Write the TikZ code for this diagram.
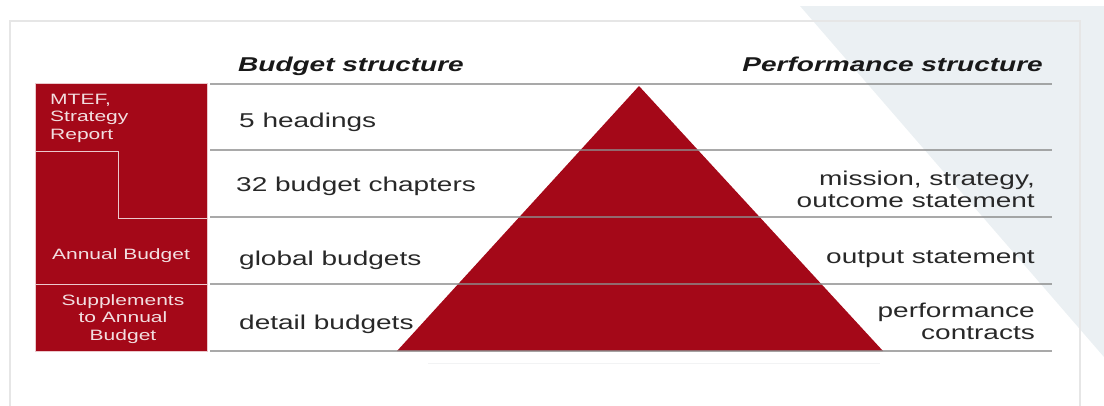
\documentclass[tikz,border=0pt]{standalone}
\usepackage{tikz}
\usepackage{fontspec}
\setmainfont{Liberation Sans}[FakeStretch=1.4]
\definecolor{budgetred}{RGB}{164,8,24}
\definecolor{boxline}{RGB}{235,200,204}
\definecolor{boxtext}{RGB}{242,222,224}
\definecolor{bgblue}{RGB}{235,240,243}
\definecolor{framegray}{RGB}{230,230,230}
\definecolor{rulegray}{RGB}{140,140,140}
\definecolor{textgray}{RGB}{40,40,40}
\tikzstyle{redbox} = [fill=budgetred,draw=boxline,line width=0.8pt]
\tikzstyle{rule} = [draw=rulegray,line width=1.2pt,opacity=0.75]
\tikzstyle{head} = [inner sep=0pt,font=\fontsize{20}{22}\selectfont\bfseries\itshape,text=black!90]
\tikzstyle{level} = [inner sep=0pt,font=\fontsize{20}{22}\selectfont,text=textgray]
\tikzstyle{boxlabel} = [inner sep=0pt,font=\fontsize{15}{17.3}\selectfont,text=boxtext]

\begin{document}
\begin{tikzpicture}[x=1pt,y=-1pt]
	\useasboundingbox (0,0) rectangle (1104,405);
	\fill[bgblue] (800,6) -- (1104,6) -- (1104,357) -- cycle;
	\draw[framegray,line width=1.5pt] (10,420) -- (10,21) -- (1080,21) -- (1080,420);
	\draw[bgblue!90!black!60,line width=1pt,opacity=0.5] (428,363) -- (880,363);
	
	\draw[redbox] (35,83) -- (207,83) -- (207,218) -- (118,218) -- (118,151) -- (35,151) -- cycle;
	\draw[redbox] (35,151) -- (118,151) -- (118,218) -- (207,218) -- (207,284) -- (35,284) -- cycle;
	\draw[redbox] (35,284) rectangle (207,351);
	
	\fill[budgetred] (639,86) -- (883,351) -- (397,351) -- cycle;
	\foreach \y in {84,150,217,284,351}
		\draw[rule] (210,\y) -- (1052,\y);
	
	\node[head,anchor=base west] (budget) at (238,71.5) {Budget structure};
	\node[head,anchor=base east] (perf) at (1043,71.5) {Performance structure};
	
	\node[level,anchor=base west] (headings) at (239,127) {5 headings};
	\node[level,anchor=base west] (chapters) at (236,191) {32 budget chapters};
	\node[level,anchor=base west] (global) at (239,265) {global budgets};
	\node[level,anchor=base west] (detail) at (239,329) {detail budgets};
	
	\node[level,align=right,anchor=base east] (mission) at (1035,207) {mission, strategy,\\outcome statement};
	\node[level,anchor=base east] (output) at (1035,263) {output statement};
	\node[level,align=right,anchor=base east] (contracts) at (1035,339) {performance\\contracts};
	
	\node[boxlabel,align=left,anchor=base west] (mtef) at (50,139) {MTEF,\\Strategy\\Report};
	\node[boxlabel,anchor=base] (annual) at (121,259) {Annual Budget};
	\node[boxlabel,align=center,anchor=base] (suppl) at (123,340) {Supplements\\to Annual\\Budget};
\end{tikzpicture}
\end{document}
